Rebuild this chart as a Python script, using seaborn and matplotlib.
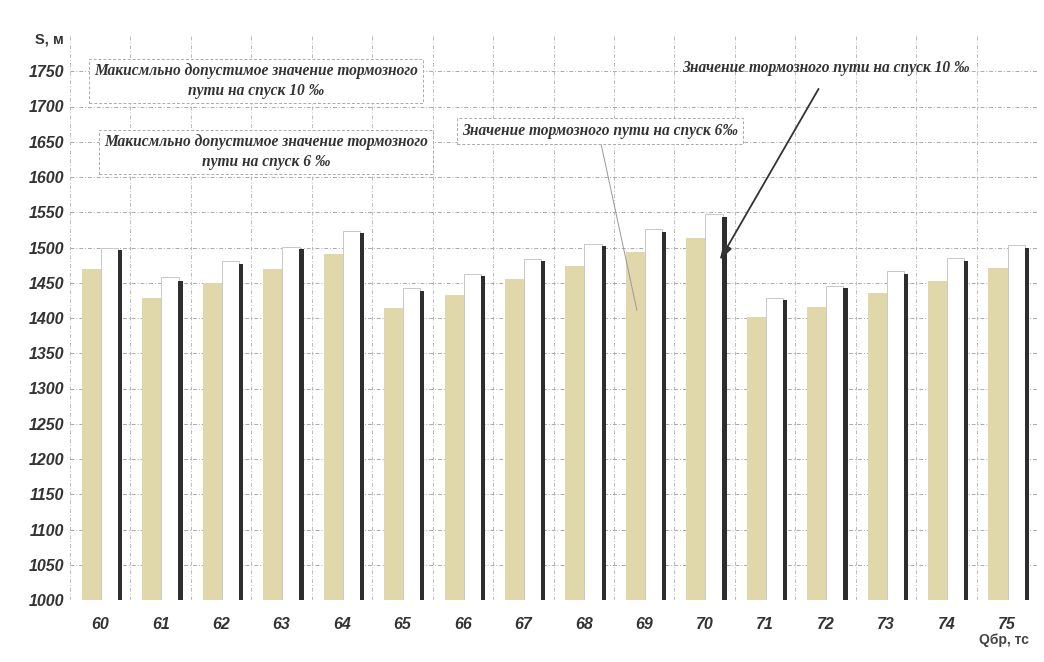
import matplotlib
matplotlib.use("Agg")
import matplotlib.pyplot as plt
import seaborn as sns
import numpy as np
import pandas as pd

# ---- data ----
q_values = [60, 61, 62, 63, 64, 65, 66, 67, 68, 69, 70, 71, 72, 73, 74, 75]
s_6 = [1469, 1428, 1450, 1470, 1491, 1414, 1433, 1455, 1474, 1494, 1513, 1401, 1416, 1436, 1453, 1471]
s_10 = [1500, 1458, 1481, 1501, 1524, 1443, 1463, 1484, 1505, 1526, 1547, 1429, 1446, 1466, 1485, 1503]
s_10_edge = [1496, 1453, 1476, 1498, 1521, 1439, 1459, 1481, 1502, 1522, 1543, 1425, 1442, 1462, 1481, 1499]
y_ticks = list(range(1000, 1751, 50))

sns.set_style("white")
plt.rcParams['font.family'] = ['Liberation Sans', 'DejaVu Sans']

fig = plt.figure(figsize=(10.44, 6.62), dpi=100)
ax = fig.add_axes([70 / 1044, 62 / 662, 967 / 1044, 564 / 662])

q = np.array(q_values, dtype=float)
series = [
    (s_6, -0.145, 0.315, '#e0d7aa', 'none', 0),
    (s_10, 0.155, 0.285, 'white', '#c8c8c8', 0.7),
    (s_10_edge, 0.33, 0.07, '#2e2e2e', 'none', 0),
]
for vals, off, w, col, ec, lw in series:
    df = pd.DataFrame({'x': q + off, 'y': vals})
    sns.barplot(data=df, x='x', y='y', native_scale=True, width=w, color=col,
                edgecolor=ec, linewidth=lw, saturation=1, errorbar=None, ax=ax)

ax.set_xlim(59.5, 75.5)
ax.set_ylim(1000, 1800)
ax.set_yticks(y_ticks)
ax.set_yticklabels([str(v) for v in y_ticks], fontsize=11.5, fontweight='bold',
                   fontstyle='italic', color='#333333')
ax.set_xticks(q_values)
ax.set_xticklabels([str(v) for v in q_values], fontsize=11.5, fontweight='bold',
                   fontstyle='italic', color='#333333')
ax.set_xticks(np.arange(59.5, 75.6, 1.0), minor=True)
ax.tick_params(axis='both', which='both', length=0)
ax.tick_params(axis='x', which='major', pad=12)
ax.tick_params(axis='y', which='major', pad=4)
ax.set_xlabel('')
ax.set_ylabel('')

ax.grid(False)
ax.yaxis.grid(True, which='major', color='#aaaaaa', linestyle=(0, (4, 2, 1, 2)), linewidth=0.7)
ax.xaxis.grid(True, which='minor', color='#bbbbbb', linestyle=(0, (4, 2, 1, 2)), linewidth=0.7)
ax.set_axisbelow(True)
for sp in ax.spines.values():
    sp.set_visible(False)

fig.text(35 / 1044, 1 - 40 / 662, 'S, м', fontsize=10.5, fontweight='bold',
         color='#333333', va='center', ha='left')
fig.text(1004 / 1044, 1 - 640 / 662, 'Qбр, тс', fontsize=10, fontweight='bold',
         color='#444444', va='center', ha='center')

serif = ['Liberation Serif', 'DejaVu Serif']
box_style = dict(boxstyle='square,pad=0.3', facecolor='white', edgecolor='#aaaaaa',
                 linestyle=(0, (3, 2)), linewidth=0.7)

fig.text(256 / 1044, 1 - 81 / 662,
         'Макисмльно допустимое значение тормозного\nпути на спуск 10 ‰',
         family=serif, fontsize=11.2, fontweight='bold', fontstyle='italic',
         color='#333333', ha='center', va='center', linespacing=1.3, bbox=box_style)
fig.text(266 / 1044, 1 - 152 / 662,
         'Макисмльно допустимое значение тормозного\nпути на спуск 6 ‰',
         family=serif, fontsize=11.2, fontweight='bold', fontstyle='italic',
         color='#333333', ha='center', va='center', linespacing=1.3, bbox=box_style)

ax.annotate('Значение тормозного пути на спуск 6‰',
            xy=(68.88, 1411), xycoords='data',
            xytext=(600 / 1044, 1 - 131 / 662), textcoords='figure fraction',
            family=serif, fontsize=11.2, fontweight='bold', fontstyle='italic',
            color='#333333', ha='center', va='center', bbox=box_style,
            arrowprops=dict(arrowstyle='-', color='#999999', lw=0.7,
                            shrinkA=0, shrinkB=0,
                            relpos=(0.5, 0.0)))

ax.annotate('Значение тормозного пути на спуск 10 ‰',
            xy=(70.25, 1482), xycoords='data',
            xytext=(826 / 1044, 1 - 68 / 662), textcoords='figure fraction',
            family=serif, fontsize=11.2, fontweight='bold', fontstyle='italic',
            color='#333333', ha='center', va='center',
            arrowprops=dict(arrowstyle='-|>,head_length=0.8,head_width=0.25',
                            color='#333333', lw=1.3, shrinkA=8, shrinkB=0,
                            relpos=(0.5, 0.0)))

fig.savefig('out.png', dpi=100, facecolor='white')
